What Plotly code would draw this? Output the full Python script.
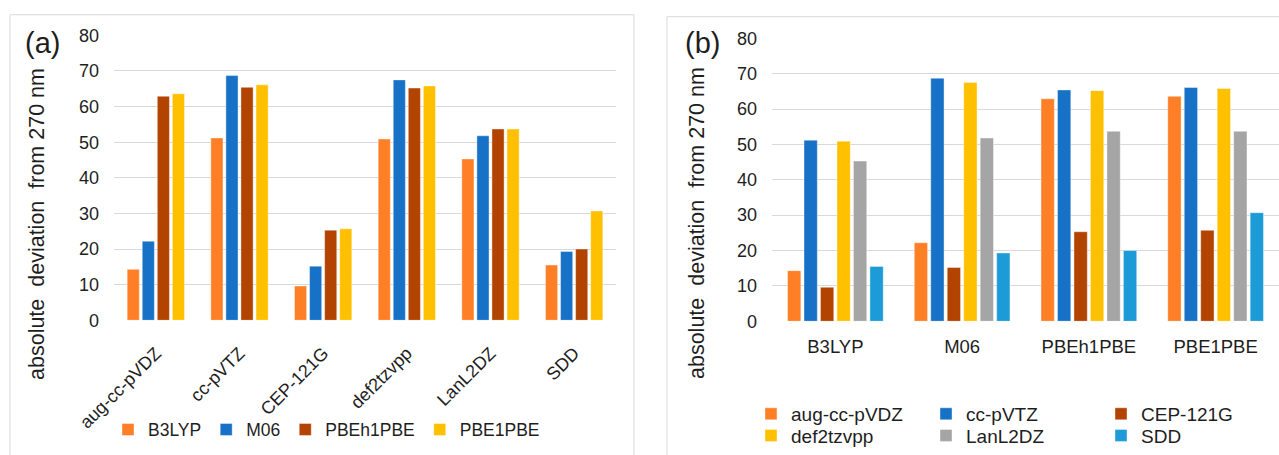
import plotly.graph_objects as go

# Basis sets and functionals compared
basis_sets = ["aug-cc-pVDZ", "cc-pVTZ", "CEP-121G", "def2tzvpp", "LanL2DZ", "SDD"]
functionals = ["B3LYP", "M06", "PBEh1PBE", "PBE1PBE"]

# Absolute deviation from 270 nm, one list per functional (ordered as basis_sets)
b3lyp = [14.3, 51.2, 9.6, 50.9, 45.3, 15.5]
m06 = [22.2, 68.7, 15.2, 67.5, 51.8, 19.3]
pbeh1pbe = [62.9, 65.4, 25.3, 65.2, 53.7, 20.0]
pbe1pbe = [63.6, 66.1, 25.7, 65.8, 53.7, 30.7]

y_ticks = [0, 10, 20, 30, 40, 50, 60, 70, 80]
y_title = "absolute  deviation  from 270 nm"

functional_values = [b3lyp, m06, pbeh1pbe, pbe1pbe]
functional_colors = ["#FF7F27", "#1771C6", "#B24300", "#FFC000"]
basis_colors = ["#FF7F27", "#1771C6", "#B24300", "#FFC000", "#A5A5A5", "#1C9BD7"]

W, H = 1279, 455
FONT = "Liberation Sans, Arial, sans-serif"
TXT = "#1E1E1E"
GRID = "#D9D9D9"


def px_x(v):
    return v / W


def px_y(v):
    return 1 - v / H


fig = go.Figure()

# Panel (a): grouped by basis set, one series per functional
slot_a, width_a = 0.18, 0.145
for i, (name, vals, col) in enumerate(zip(functionals, functional_values, functional_colors)):
    off = -len(functionals) * slot_a / 2 + i * slot_a + (slot_a - width_a) / 2
    fig.add_trace(go.Bar(
        x=basis_sets, y=vals, name=name, marker_color=col,
        marker_line=dict(color="rgba(255,255,255,0.5)", width=0.8),
        width=width_a, offset=off, xaxis="x", yaxis="y", legend="legend",
    ))

# Panel (b): grouped by functional, one series per basis set
# legend rows: first three basis sets on top, last three underneath
slot_b, width_b = 0.13, 0.105
for j, (name, col) in enumerate(zip(basis_sets, basis_colors)):
    vals = [series[j] for series in functional_values]
    off = -len(basis_sets) * slot_b / 2 + j * slot_b + (slot_b - width_b) / 2
    fig.add_trace(go.Bar(
        x=functionals, y=vals, name=name, marker_color=col,
        marker_line=dict(color="rgba(255,255,255,0.5)", width=0.8),
        width=width_b, offset=off, xaxis="x2", yaxis="y2",
        legend="legend2" if j < 3 else "legend3",
    ))

yaxis_common = dict(
    range=[0, 80], tickvals=y_ticks, showgrid=True, gridcolor=GRID, gridwidth=1,
    zeroline=False, showline=False, ticks="", ticklabelstandoff=14,
    tickfont=dict(family=FONT, size=18, color=TXT), automargin=False,
    fixedrange=True,
)
xaxis_common = dict(
    showgrid=False, zeroline=False, showline=False, ticks="", automargin=False,
    fixedrange=True,
)

legend_common = dict(
    bgcolor="rgba(0,0,0,0)", borderwidth=0, itemclick=False, itemdoubleclick=False,
    xanchor="left", yanchor="top", orientation="h",
)

fig.update_layout(
    width=W, height=H, margin=dict(l=0, r=0, t=0, b=0),
    paper_bgcolor="white", plot_bgcolor="white", template="none",
    barmode="overlay", showlegend=True,
    xaxis=dict(domain=[px_x(114), px_x(616)], anchor="y", tickangle=-45,
               ticklabelstandoff=18, tickfont=dict(family=FONT, size=18, color=TXT),
               **xaxis_common),
    yaxis=dict(domain=[px_y(326), px_y(36)], anchor="x", **yaxis_common),
    xaxis2=dict(domain=[px_x(772), 1.0], anchor="y2", tickangle=0,
                ticklabelstandoff=12, tickfont=dict(family=FONT, size=18.5, color=TXT),
                **xaxis_common),
    yaxis2=dict(domain=[px_y(327), px_y(39)], anchor="x2", **yaxis_common),
    legend=dict(x=px_x(108), y=px_y(419),
                font=dict(family=FONT, size=17.5, color=TXT), **legend_common),
    legend2=dict(x=px_x(751), y=px_y(402), entrywidth=130, entrywidthmode="pixels",
                 font=dict(family=FONT, size=19, color=TXT), **legend_common),
    legend3=dict(x=px_x(751), y=px_y(424), entrywidth=130, entrywidthmode="pixels",
                 font=dict(family=FONT, size=19, color=TXT), **legend_common),
    shapes=[
        dict(type="rect", xref="paper", yref="paper",
             x0=px_x(10), x1=px_x(634), y0=px_y(470), y1=px_y(15),
             line=dict(color=GRID, width=1), fillcolor="rgba(0,0,0,0)", layer="below"),
        dict(type="rect", xref="paper", yref="paper",
             x0=px_x(667), x1=px_x(1300), y0=px_y(470), y1=px_y(17),
             line=dict(color=GRID, width=1), fillcolor="rgba(0,0,0,0)", layer="below"),
    ],
    annotations=[
        dict(text="(a)", xref="paper", yref="paper", x=px_x(42), y=px_y(44),
             xanchor="center", yanchor="middle", showarrow=False,
             font=dict(family=FONT, size=29, color=TXT)),
        dict(text="(b)", xref="paper", yref="paper", x=px_x(702), y=px_y(44),
             xanchor="center", yanchor="middle", showarrow=False,
             font=dict(family=FONT, size=29, color=TXT)),
        dict(text=y_title, xref="paper", yref="paper", x=px_x(37), y=px_y(228),
             xanchor="center", yanchor="middle", showarrow=False, textangle=-90,
             font=dict(family=FONT, size=21.5, color=TXT)),
        dict(text=y_title, xref="paper", yref="paper", x=px_x(697), y=px_y(227),
             xanchor="center", yanchor="middle", showarrow=False, textangle=-90,
             font=dict(family=FONT, size=21.5, color=TXT)),
    ],
)

fig.write_html("out.html")
